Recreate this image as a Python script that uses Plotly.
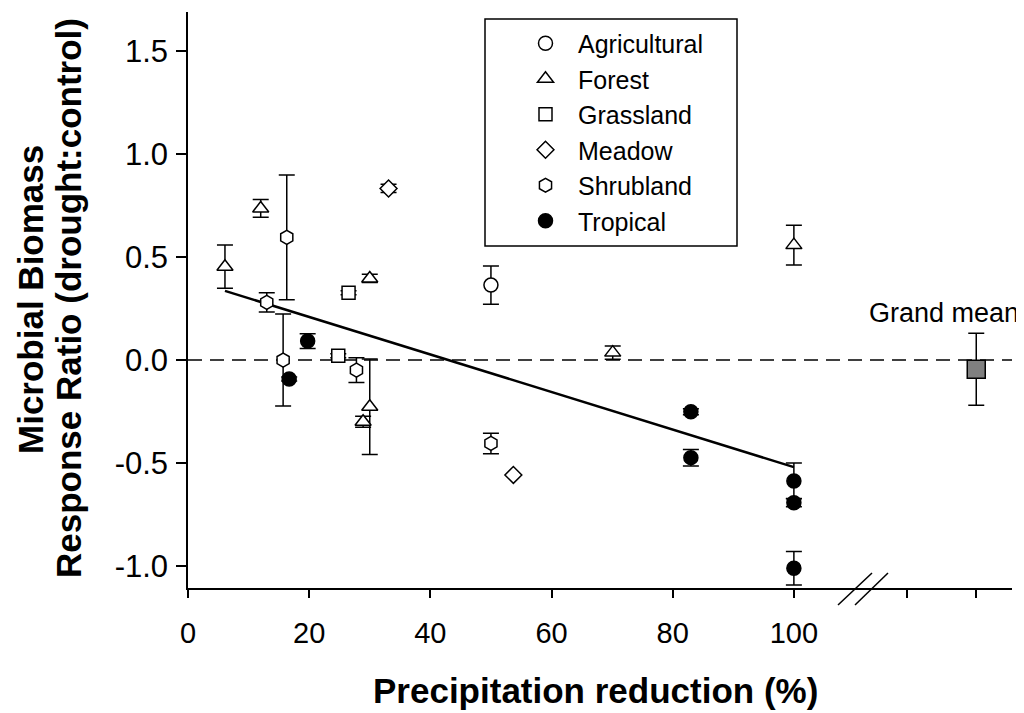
import plotly.graph_objects as go

# ---- data ----
agri_x = [50.0]
agri_y = [0.364]
agri_e = [0.093]

forest_x = [6.1, 12.0, 30.0, 30.0, 28.9, 70.1, 100.0]
forest_y = [0.453, 0.736, 0.396, -0.227, -0.300, 0.036, 0.558]
forest_e = [0.105, 0.043, 0.02, 0.232, 0.027, 0.032, 0.096]

grass_x = [26.5, 24.8]
grass_y = [0.327, 0.021]
grass_e = [0.01, 0.01]

meadow_x = [33.1, 53.7]
meadow_y = [0.833, -0.558]
meadow_e = [0.02, 0.0]

shrub_x = [16.3, 13.0, 15.7, 27.8, 50.0]
shrub_y = [0.596, 0.280, 0.000, -0.049, -0.405]
shrub_e = [0.303, 0.047, 0.223, 0.06, 0.05]

trop_x = [19.75, 16.7, 83.0, 83.0, 100.0, 100.0, 100.0]
trop_y = [0.092, -0.092, -0.251, -0.474, -0.587, -0.693, -1.011]
trop_e = [0.036, 0.01, 0.015, 0.04, 0.087, 0.02, 0.081]

grand_x = [130.1]
grand_y = [-0.045]
grand_e = [0.175]

fit_x = [6.1, 100.0]
fit_y = [0.336, -0.52]

x_tickvals = [0, 20, 40, 60, 80, 100, 118.6, 130.1]
x_ticktext = ["0", "20", "40", "60", "80", "100", "", ""]
y_tickvals = [-1.0, -0.5, 0.0, 0.5, 1.0, 1.5]
y_ticktext = ["-1.0", "-0.5", "0.0", "0.5", "1.0", "1.5"]

FONT = "Arial, Liberation Sans, sans-serif"

fig = go.Figure()

def add_series(name, xs, ys, es, symbol, size, fill, showlegend=True):
    fig.add_trace(go.Scatter(
        x=xs, y=ys, mode="markers", name=name, showlegend=showlegend,
        marker=dict(symbol=symbol, size=size, color=fill,
                    line=dict(color="black", width=1.5)),
        error_y=dict(type="data", array=es, visible=True, color="black",
                     thickness=1.5, width=8),
        cliponaxis=False,
    ))

# regression line
fig.add_trace(go.Scatter(x=fit_x, y=fit_y, mode="lines", showlegend=False,
                         line=dict(color="black", width=2.5)))

add_series("Agricultural", agri_x, agri_y, agri_e, "circle", 14, "white")
add_series("Forest", forest_x, forest_y, forest_e, "triangle-up", 14, "white")
add_series("Grassland", grass_x, grass_y, grass_e, "square", 13, "white")
add_series("Meadow", meadow_x, meadow_y, meadow_e, "diamond", 13, "white")
add_series("Shrubland", shrub_x, shrub_y, shrub_e, "hexagon", 14, "white")
add_series("Tropical", trop_x, trop_y, trop_e, "circle", 14, "black")
add_series("Grand mean", grand_x, grand_y, grand_e, "square", 18, "#808080", showlegend=False)

# dashed zero line
fig.add_shape(type="line", xref="paper", yref="y", x0=0, x1=1, y0=0, y1=0,
              line=dict(color="black", width=1.5, dash="14px,8px"), layer="below")

# legend box
fig.add_shape(type="rect", xref="paper", yref="paper",
              x0=(485 - 188) / 824, x1=(737 - 188) / 824,
              y0=(588 - 246) / 576, y1=(588 - 19) / 576,
              line=dict(color="black", width=1.5), fillcolor="rgba(0,0,0,0)")

# axis break marks
for x0, x1 in [(838, 872), (855, 888)]:
    fig.add_shape(type="line", xref="paper", yref="paper",
                  x0=(x0 - 188) / 824, x1=(x1 - 188) / 824,
                  y0=(588 - 605) / 576, y1=(588 - 573) / 576,
                  line=dict(color="black", width=1.5))

fig.add_annotation(x=(944 - 188) / 824, y=(588 - 313) / 576, xref="paper", yref="paper",
                   text="Grand mean", showarrow=False, xanchor="center", yanchor="middle",
                   font=dict(size=27, color="black", family=FONT))

fig.add_annotation(x=(595 - 188) / 824, y=(588 - 690) / 576, xref="paper", yref="paper",
                   text="<b>Precipitation reduction (%)</b>", showarrow=False,
                   xanchor="center", yanchor="middle",
                   font=dict(size=35, color="black", family=FONT))
fig.add_annotation(x=(30 - 188) / 824, y=(588 - 300) / 576, xref="paper", yref="paper",
                   text="<b>Microbial Biomass</b>", showarrow=False, textangle=-90,
                   xanchor="center", yanchor="middle",
                   font=dict(size=35, color="black", family=FONT))
fig.add_annotation(x=(68 - 188) / 824, y=(588 - 298) / 576, xref="paper", yref="paper",
                   text="<b>Response Ratio (drought:control)</b>", showarrow=False, textangle=-90,
                   xanchor="center", yanchor="middle",
                   font=dict(size=35, color="black", family=FONT))

fig.update_layout(
    width=1016, height=705,
    margin=dict(l=180, r=12, t=4, b=125, autoexpand=False),
    paper_bgcolor="white", plot_bgcolor="white",
    font=dict(family=FONT, color="black"),
    legend=dict(x=(513 - 188) / 824, y=(588 - 20.5) / 576, xanchor="left", yanchor="top",
                bgcolor="rgba(0,0,0,0)", borderwidth=0,
                font=dict(size=25, family=FONT, color="black"),
                itemwidth=55),
    xaxis=dict(range=[0, 136], showgrid=False, zeroline=False, showline=True,
               linecolor="black", linewidth=1.5, ticks="outside", ticklen=8,
               tickwidth=1.5, tickcolor="black", tickvals=x_tickvals, ticktext=x_ticktext,
               tickfont=dict(size=29, family=FONT, color="black"), ticklabelstandoff=10,
               automargin=False),
    yaxis=dict(range=[-1.107, 1.69], showgrid=False, zeroline=False, showline=True,
               linecolor="black", linewidth=1.5, ticks="outside", ticklen=10,
               tickwidth=1.5, tickcolor="black", tickvals=y_tickvals, ticktext=y_ticktext,
               tickfont=dict(size=31, family=FONT, color="black"), ticklabelstandoff=2,
               automargin=False),
)

fig.write_html("out.html")
